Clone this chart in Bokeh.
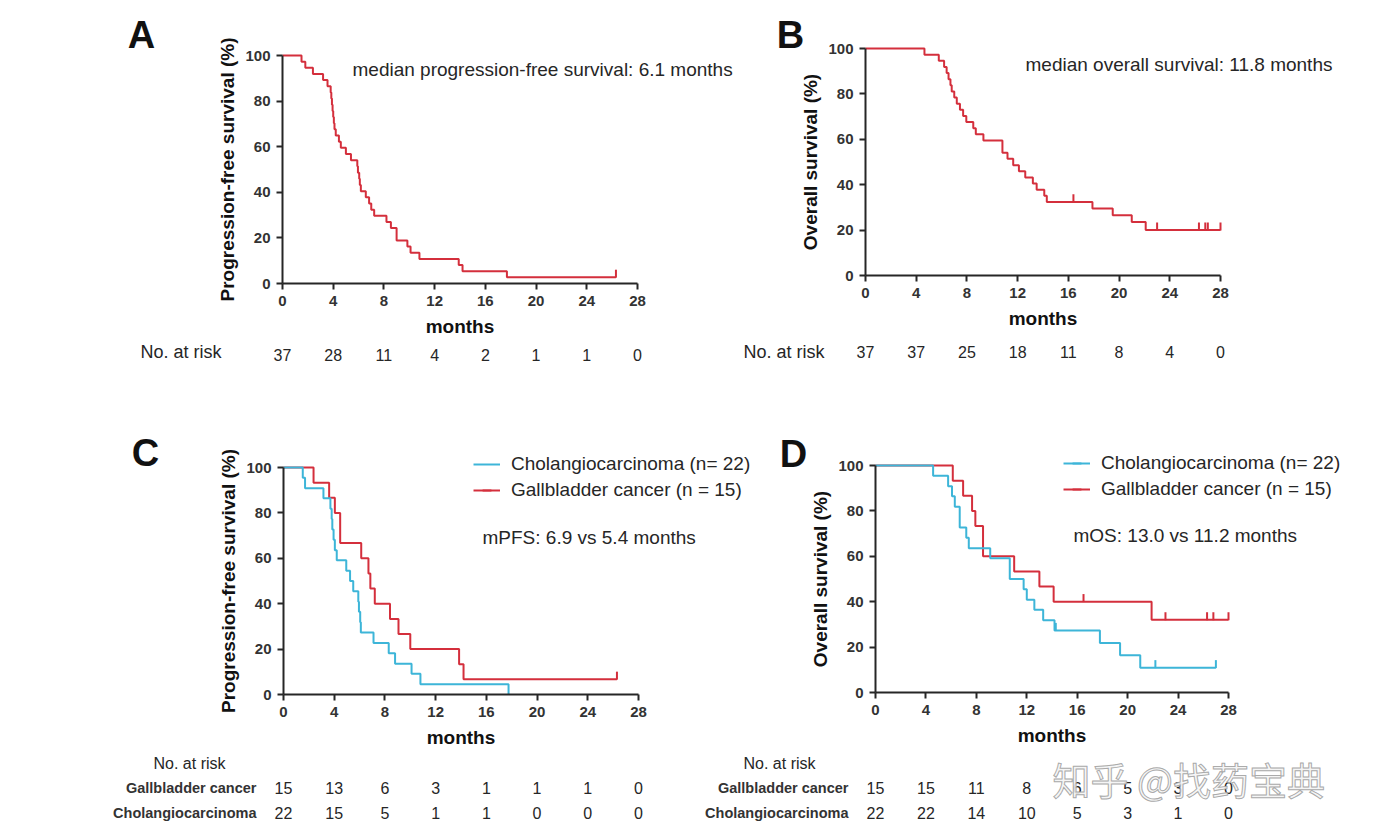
import math
from bokeh.plotting import figure
from bokeh.models import (Range1d, FixedTicker, Label, LabelSet, ColumnDataSource,
                          Legend, LegendItem)
from bokeh.core.properties import value
from bokeh.layouts import column, row
from bokeh.transform import dodge
from bokeh.embed import file_html
from bokeh.resources import INLINE

RED = "#d42f3c"
BLUE = "#3db5d8"
INK = "#262626"
FONT = "Liberation Sans"

month_ticks = [0, 4, 8, 12, 16, 20, 24, 28]
surv_ticks = [0, 20, 40, 60, 80, 100]

# ---------------- Panel A: progression-free survival (all, n=37)
a_time = [0, 1.5, 1.8, 2.4, 3.2, 3.55, 3.8, 3.85, 3.9, 3.95, 4.0, 4.05, 4.1, 4.2, 4.45,
          4.6, 5.0, 5.4, 5.9, 5.95, 6.05, 6.1, 6.18, 6.57, 6.83, 7.0, 7.23, 8.2, 8.55,
          9.0, 9.85, 10.1, 10.8, 13.9, 14.2, 17.7, 26.3]
a_surv = [100, 97.3, 94.6, 91.9, 89.2, 86.5, 83.8, 81.1, 78.4, 75.7, 73.0, 70.3, 67.6,
          64.9, 62.2, 59.5, 56.8, 54.1, 51.4, 48.6, 45.9, 43.2, 40.5, 37.8, 35.1, 32.4,
          29.7, 27.0, 24.3, 18.9, 16.2, 13.5, 10.8, 8.1, 5.4, 2.7, 2.7]
a_cens_time = [26.3]
a_cens_surv = [2.7]
a_risk = [37, 28, 11, 4, 2, 1, 1, 0]

# ---------------- Panel B: overall survival (all, n=37)
b_time = [0, 4.65, 5.78, 6.2, 6.4, 6.55, 6.7, 6.8, 7.0, 7.2, 7.45, 7.7, 7.95, 8.5, 8.7,
          9.3, 10.8, 11.2, 11.65, 12.1, 12.6, 13.2, 13.5, 14.1, 14.3, 17.9, 19.5, 21.0,
          22.1, 28.0]
b_surv = [100, 97.3, 94.6, 91.9, 89.2, 86.5, 83.8, 81.1, 78.4, 75.7, 73.0, 70.3, 67.6,
          64.9, 62.2, 59.5, 54.1, 51.4, 48.6, 45.9, 43.2, 40.5, 37.8, 35.1, 32.4, 29.5,
          26.5, 23.6, 20.0, 20.0]
b_cens_time = [16.4, 23.0, 26.3, 26.8, 27.0, 28.0]
b_cens_surv = [32.4, 20.0, 20.0, 20.0, 20.0, 20.0]
b_risk = [37, 37, 25, 18, 11, 8, 4, 0]

# ---------------- Panel C: PFS by subgroup
c_gb_time = [0, 2.37, 3.6, 4.05, 4.47, 6.13, 6.7, 6.85, 7.2, 8.4, 9.07, 10.0, 13.85, 14.2, 26.3]
c_gb_surv = [100, 93.3, 86.7, 80.0, 66.7, 60.0, 53.3, 46.7, 40.0, 33.3, 26.7, 20.0, 13.3, 6.7, 6.7]
c_gb_cens_time = [26.3]
c_gb_cens_surv = [6.7]
c_cc_time = [0, 1.52, 1.7, 3.15, 3.7, 3.8, 3.85, 3.95, 4.05, 4.2, 4.95, 5.25, 5.5, 5.9,
             5.95, 6.05, 6.1, 7.1, 8.3, 8.8, 10.1, 10.8, 17.75]
c_cc_surv = [100, 95.5, 90.9, 86.4, 81.8, 77.3, 72.7, 68.2, 63.6, 59.1, 54.5, 50.0, 45.5,
             40.9, 36.4, 31.8, 27.3, 22.7, 18.2, 13.6, 9.1, 4.5, 0]
c_gb_risk = [15, 13, 6, 3, 1, 1, 1, 0]
c_cc_risk = [22, 15, 5, 1, 1, 0, 0, 0]

# ---------------- Panel D: OS by subgroup
d_gb_time = [0, 6.13, 6.95, 7.66, 7.92, 8.53, 11.0, 13.0, 14.13, 21.9, 28.0]
d_gb_surv = [100, 93.3, 86.7, 80.0, 73.3, 60.0, 53.3, 46.7, 40.0, 32.0, 32.0]
d_gb_cens_time = [16.5, 23.0, 26.3, 26.8, 28.0]
d_gb_cens_surv = [40.0, 32.0, 32.0, 32.0, 32.0]
d_cc_time = [0, 4.57, 5.76, 6.07, 6.29, 6.68, 7.2, 7.4, 9.1, 10.65, 11.75, 12.0, 12.6,
             13.3, 14.2, 17.8, 19.4, 21.0, 27.0]
d_cc_surv = [100, 95.5, 90.9, 86.4, 81.8, 72.7, 68.2, 63.6, 59.1, 50.0, 45.5, 40.9, 36.4,
             31.8, 27.3, 21.8, 16.4, 10.9, 10.9]
d_cc_cens_time = [14.3, 22.2, 27.0]
d_cc_cens_surv = [27.3, 10.9, 10.9]
d_gb_risk = [15, 15, 11, 8, 6, 5, 3, 0]
d_cc_risk = [22, 22, 14, 10, 5, 3, 1, 0]

legend_labels = ["Cholangiocarcinoma (n= 22)", "Gallbladder cancer (n = 15)"]
row_labels = ["Gallbladder cancer", "Cholangiocarcinoma"]


class Panel:
    """A figure whose frame fills the whole canvas; axes are fixed at 0."""

    def __init__(self, FL, FT, W, H, X0, X28, Y0, Y100, ylabel, margin=None):
        self.FL, self.FT, self.W, self.H = FL, FT, W, H
        ppm = (X28 - X0) / 28.0
        ppu = (Y0 - Y100) / 100.0
        xr = Range1d(-(X0 - FL) / ppm, (FL + W - X0) / ppm)
        yr = Range1d(-(FT + H - Y0) / ppu, (Y0 - FT) / ppu)
        p = figure(width=W, height=H, x_range=xr, y_range=yr, output_backend="svg",
                   toolbar_location=None, tools="", min_border=0,
                   min_border_left=0, min_border_right=0, min_border_top=0,
                   min_border_bottom=0)
        if margin is not None:
            p.margin = margin
        p.outline_line_color = None
        p.grid.visible = False
        p.background_fill_alpha = 0
        p.border_fill_alpha = 0
        p.xaxis.ticker = FixedTicker(ticks=month_ticks)
        p.yaxis.ticker = FixedTicker(ticks=surv_ticks)
        p.xaxis.fixed_location = 0
        p.yaxis.fixed_location = 0
        p.xaxis.bounds = (0, 28)
        p.yaxis.bounds = (0, 100)
        for ax in (p.xaxis[0], p.yaxis[0]):
            ax.axis_line_width = 2
            ax.axis_line_color = INK
            ax.major_tick_line_width = 2
            ax.major_tick_line_color = INK
            ax.major_tick_out = 6
            ax.major_tick_in = 0
            ax.minor_tick_line_color = None
            ax.major_label_text_font = FONT
            ax.major_label_text_font_size = "15px"
            ax.major_label_text_font_style = "bold"
            ax.major_label_text_color = "#333333"
            ax.major_label_standoff = 6
            ax.axis_label_text_font = FONT
            ax.axis_label_text_font_size = "19px"
            ax.axis_label_text_font_style = "bold"
            ax.axis_label_text_color = "#111111"
            ax.axis_label_standoff = 4
        p.xaxis.axis_label_standoff = 7
        p.xaxis.axis_label = "months"
        p.yaxis.axis_label = ylabel
        self.p = p

    def sx(self, ix):
        return ix - self.FL

    def sy(self, iy):
        return self.FT + self.H - iy

    def txt(self, ix, iy, text, size, bold=False, align="left", color=INK, font=FONT, **kw):
        self.p.add_layout(Label(x=self.sx(ix), y=self.sy(iy), x_units="screen",
                                y_units="screen", text=text, text_font=font,
                                text_font_size=f"{size}px",
                                text_font_style="bold" if bold else "normal",
                                text_align=align, text_baseline="middle",
                                text_color=color, **kw))

    def risk_row(self, iy, values, size=16):
        src = ColumnDataSource(dict(x=month_ticks, t=[str(v) for v in values]))
        self.p.add_layout(LabelSet(x="x", y=self.sy(iy), text="t", source=src,
                                   x_units="data", y_units="screen", text_align="center",
                                   text_baseline="middle", text_font=value(FONT),
                                   text_font_size=value(f"{size}px"),
                                   text_color=INK))

    def curve(self, t, s, color):
        return self.p.step(t, s, mode="after", line_color=color, line_width=2)

    def censor(self, t, s, color):
        src = ColumnDataSource(dict(t=t, s=s))
        return self.p.scatter(x="t", y=dodge("s", 1.6), source=src, marker="dash",
                              angle=math.pi / 2, size=8, line_color=color, line_width=2)

    def legend(self, ix_left, iy_bottom, blue_renderers, red_renderers):
        items = [LegendItem(label=legend_labels[0], renderers=blue_renderers),
                 LegendItem(label=legend_labels[1], renderers=red_renderers)]
        lg = Legend(items=items, location=(self.sx(ix_left), self.sy(iy_bottom)),
                    border_line_color=None, background_fill_alpha=0, padding=0,
                    margin=0, spacing=4, glyph_width=27, glyph_height=22,
                    label_height=22, label_standoff=11, label_text_font=FONT,
                    label_text_font_size="19px", label_text_color=INK)
        self.p.add_layout(lg)


# ---- A
A = Panel(0, 0, 745, 415, 282, 637, 283, 55, "Progression-free survival (%)")
A.curve(a_time, a_surv, RED)
A.censor(a_cens_time, a_cens_surv, RED)
A.txt(141, 34, "A", 38, bold=True, align="center", color="#111111")
A.txt(352, 69, "median progression-free survival: 6.1 months", 19)
A.txt(140, 351, "No. at risk", 18)
A.risk_row(354, a_risk)

# ---- B
B = Panel(735, 0, 640, 415, 865, 1220, 275, 48, "Overall survival (%)",
          margin=(0, 0, 0, -10))
B.curve(b_time, b_surv, RED)
B.censor(b_cens_time, b_cens_surv, RED)
B.txt(790, 34, "B", 38, bold=True, align="center", color="#111111")
B.txt(1025, 64, "median overall survival: 11.8 months", 19)
B.txt(743, 351, "No. at risk", 18)
B.risk_row(351, b_risk)

# ---- C
C = Panel(0, 415, 765, 415, 283, 638, 694, 467, "Progression-free survival (%)")
c_red = C.curve(c_gb_time, c_gb_surv, RED)
c_red_c = C.censor(c_gb_cens_time, c_gb_cens_surv, RED)
c_blue = C.curve(c_cc_time, c_cc_surv, BLUE)
C.legend(473, 501, [c_blue], [c_red, c_red_c])
C.txt(145, 452, "C", 38, bold=True, align="center", color="#111111")
C.txt(482, 537, "mPFS: 6.9 vs 5.4 months", 19)
C.txt(153, 763, "No. at risk", 16)
C.txt(256, 787, row_labels[0], 14.5, bold=True, align="right", color="#333333")
C.txt(256, 812, row_labels[1], 14.5, bold=True, align="right", color="#333333")
C.risk_row(787, c_gb_risk)
C.risk_row(812, c_cc_risk)

# ---- D
D = Panel(700, 415, 675, 415, 875, 1228, 692, 465, "Overall survival (%)",
          margin=(0, 0, 0, -65))
d_red = D.curve(d_gb_time, d_gb_surv, RED)
d_red_c = D.censor(d_gb_cens_time, d_gb_cens_surv, RED)
d_blue = D.curve(d_cc_time, d_cc_surv, BLUE)
d_blue_c = D.censor(d_cc_cens_time, d_cc_cens_surv, BLUE)
D.legend(1063, 500, [d_blue, d_blue_c], [d_red, d_red_c])
D.txt(793, 453, "D", 38, bold=True, align="center", color="#111111")
D.txt(1073, 535, "mOS: 13.0 vs 11.2 months", 19)
D.txt(743, 763, "No. at risk", 16)
D.txt(848, 787, row_labels[0], 14.5, bold=True, align="right", color="#333333")
D.txt(848, 812, row_labels[1], 14.5, bold=True, align="right", color="#333333")
D.risk_row(787, d_gb_risk)
D.risk_row(812, d_cc_risk)
D.txt(1052, 778, "知乎 @找药宝典", 38, font="Noto Sans CJK SC", color="#f4f4f4",
      text_outline_color="#a0a0a0", text_alpha=0.9)

layout = column(row(A.p, B.p, spacing=0), row(C.p, D.p, spacing=0), spacing=0)

with open("out.html", "w") as f:
    f.write(file_html(layout, INLINE))
